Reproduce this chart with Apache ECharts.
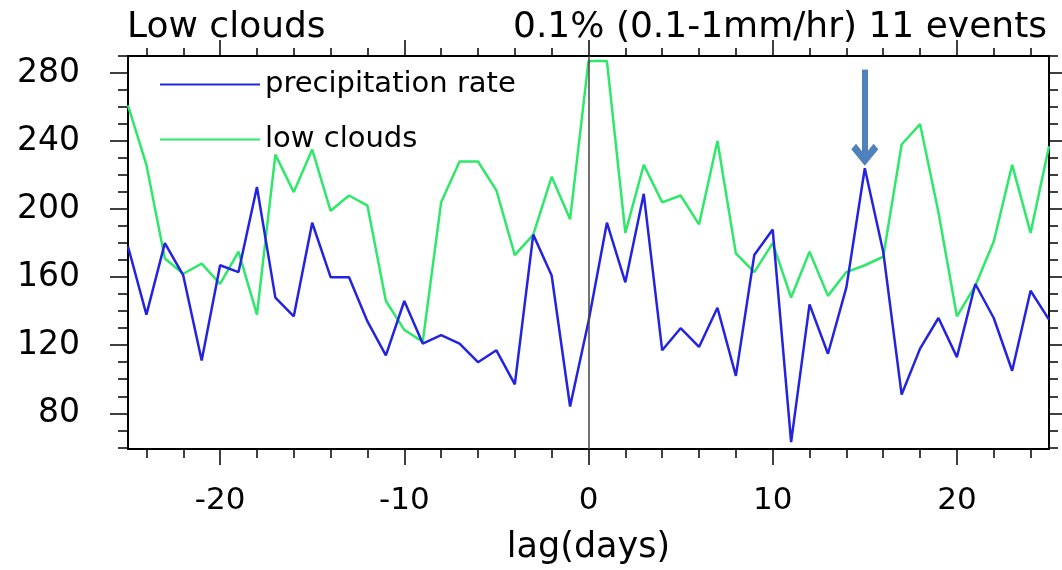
<!DOCTYPE html>
<html lang="en">
<head>
    <meta charset="UTF-8">
    <title>Low clouds lag composite</title>
    <style>
        html, body { margin: 0; padding: 0; background: #fff; }
        #chart-box { width: 1062px; height: 570px; }
    </style>
</head>
<body>
<div id="chart-box"></div>
<script src="https://cdn.jsdelivr.net/npm/echarts@6/dist/echarts.min.js"></script>
<script>
    // lag in days, -25 .. 25
    var days = [-25, -24, -23, -22, -21, -20, -19, -18, -17, -16, -15, -14, -13, -12, -11, -10,
        -9, -8, -7, -6, -5, -4, -3, -2, -1, 0, 1, 2, 3, 4, 5, 6, 7, 8, 9, 10,
        11, 12, 13, 14, 15, 16, 17, 18, 19, 20, 21, 22, 23, 24, 25];

    // precipitation rate (blue)
    var precipRate = [178, 138, 180, 161, 111, 167, 163, 213, 148, 137, 192, 160, 160, 134, 114, 146,
        121, 126, 121, 110, 117, 97, 185, 161, 84, 134, 192, 157, 209, 117, 130, 119, 142, 102, 173, 188,
        63, 144, 115, 154, 224, 175, 91, 118, 136, 113, 156, 136, 105, 152, 135];

    // low clouds (green)
    var lowClouds = [261, 226, 171, 162, 168, 156, 175, 138, 232, 210, 235, 199, 208, 202, 146, 129,
        122, 204, 228, 228, 211, 173, 185, 219, 194, 287, 287, 186, 226, 204, 208, 191, 240, 174, 163, 180,
        148, 175, 149, 163, 167, 172, 238, 250, 198, 137, 155, 181, 226, 186, 237];

    // tick positions
    var xMajor = [-20, -10, 0, 10, 20];
    var xMinor = [-24, -22, -18, -16, -14, -12, -8, -6, -4, -2, 2, 4, 6, 8, 12, 14, 16, 18, 22, 24];
    var yMajor = [80, 120, 160, 200, 240, 280];
    var yMinor = [60, 70, 90, 100, 110, 130, 140, 150, 170, 180, 190, 210, 220, 230, 250, 260, 270, 290];

    var arrowDay = 15;

    var FONT = 'DejaVu Sans';
    var xMin = -25, xMax = 25, yMin = 59, yMax = 290;

    function pairs(vals) {
        return days.map(function (d, i) { return [d, vals[i]]; });
    }

    function xAx(pos, ticks, len, main) {
        return {
            type: 'value', min: xMin, max: xMax, position: pos,
            axisLine: {show: main, onZero: false, lineStyle: {color: '#000', width: 2}},
            axisTick: {show: true, inside: false, length: len, customValues: ticks,
                lineStyle: {color: '#000', width: 1.5}},
            axisLabel: {show: false},
            splitLine: {show: false}
        };
    }

    function yAx(pos, ticks, len, main) {
        return {
            type: 'value', min: yMin, max: yMax, position: pos,
            axisLine: {show: main, onZero: false, lineStyle: {color: '#000', width: 2}},
            axisTick: {show: true, inside: false, length: len, customValues: ticks,
                lineStyle: {color: '#000', width: 1.5}},
            axisLabel: {show: false},
            splitLine: {show: false}
        };
    }

    var xBottom = xAx('bottom', xMajor, 16, true);
    xBottom.axisLabel = {show: true, customValues: xMajor, margin: 36,
        fontSize: 31, fontFamily: FONT, color: '#000'};
    xBottom.name = 'lag(days)';
    xBottom.nameLocation = 'middle';
    xBottom.nameGap = 81;
    xBottom.nameTextStyle = {fontSize: 35, fontFamily: FONT, color: '#000'};

    var yLeft = yAx('left', yMajor, 18, true);
    yLeft.axisLabel = {show: true, customValues: yMajor, margin: 48,
        fontSize: 33, fontFamily: FONT, color: '#000'};

    var myChart = echarts.init(document.getElementById('chart-box'));

    var option = {
        animation: false,
        backgroundColor: '#fff',
        title: [
            {text: 'Low clouds', left: 122, top: 5,
                textStyle: {fontSize: 36, fontWeight: 'normal', fontFamily: FONT, color: '#000'}},
            {text: '0.1% (0.1-1mm/hr) 11 events', right: 10, top: 5,
                textStyle: {fontSize: 36, fontWeight: 'normal', fontFamily: FONT, color: '#000'}}
        ],
        legend: {
            orient: 'vertical', left: 155, top: 65,
            itemWidth: 100, itemHeight: 2, itemGap: 26,
            icon: 'rect',
            textStyle: {fontSize: 29, lineHeight: 29, fontFamily: FONT, color: '#000'},
            data: ['precipitation rate', 'low clouds']
        },
        grid: {left: 128, right: 13, top: 56, bottom: 113},
        xAxis: [
            xBottom,
            xAx('bottom', xMinor, 9, false),
            xAx('top', xMajor, 16, true),
            xAx('top', xMinor, 8, false)
        ],
        yAxis: [
            yLeft,
            yAx('left', yMinor, 10, false),
            yAx('right', yMajor, 14, true),
            yAx('right', yMinor, 9, false)
        ],
        series: [
            {
                name: 'precipitation rate',
                type: 'line',
                data: pairs(precipRate),
                showSymbol: false,
                color: '#2424e0',
                lineStyle: {width: 2.5},
                z: 3,
                markLine: {
                    silent: true,
                    animation: false,
                    symbol: ['none', 'path://M10,0 L20,9 L16.5,12 L10,6 L3.5,12 L0,9 Z'],
                    symbolSize: [27, 22],
                    label: {show: false},
                    lineStyle: {color: '#4f81bd', width: 6, type: 'solid'},
                    data: [[{coord: [arrowDay, 282]}, {coord: [arrowDay, 232]}]]
                }
            },
            {
                name: 'low clouds',
                type: 'line',
                data: pairs(lowClouds),
                showSymbol: false,
                color: '#2ee86a',
                lineStyle: {width: 2.5},
                z: 2,
                markLine: {
                    silent: true,
                    animation: false,
                    symbol: ['none', 'none'],
                    label: {show: false},
                    lineStyle: {color: '#444', width: 1.5, type: 'solid'},
                    data: [{xAxis: 0}]
                }
            }
        ]
    };

    myChart.setOption(option);
</script>
</body>
</html>
